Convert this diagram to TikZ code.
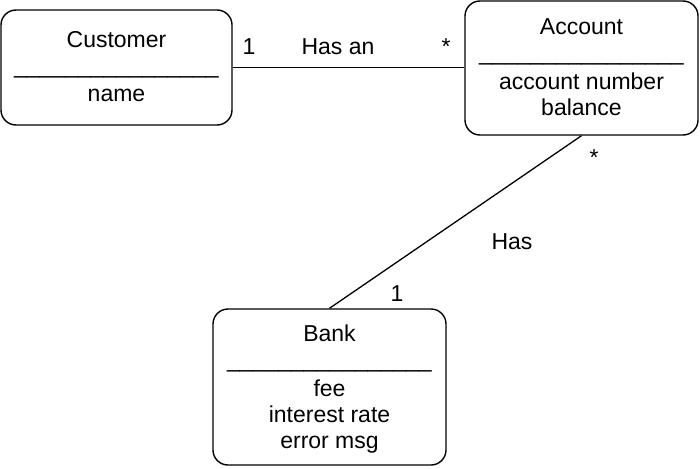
\documentclass[tikz,border=0pt]{standalone}
\usepackage{fontspec}
\setmainfont{Liberation Sans}
\begin{document}
\begin{tikzpicture}[x=1pt,y=-1pt,
  box/.style={draw, line width=1.4pt, rounded corners=15pt, inner sep=0pt},
  txt/.style={anchor=base, inner sep=0pt, font=\fontsize{23}{25}\selectfont},
  conn/.style={draw, line width=1.3pt}]
\useasboundingbox (0,0) rectangle (700,468);
% boxes
\node[box, minimum width=231pt, minimum height=115pt] (cust) at (116.5,67.5) {};
\node[box, minimum width=233pt, minimum height=134pt] (acct) at (581.5,68) {};
\node[box, minimum width=233pt, minimum height=156pt] (bank) at (329.5,387) {};
% Customer texts
\node[txt] (custname) at (116.5,48) {Customer};
\node[txt] (custsep) at (116.5,73.5) {\_\_\_\_\_\_\_\_\_\_\_\_\_\_\_\_};
\node[txt] (custattr) at (116.5,102) {name};
% Account texts
\node[txt] (acctname) at (581.5,35) {Account};
\node[txt] (acctsep) at (581.5,60.5) {\_\_\_\_\_\_\_\_\_\_\_\_\_\_\_\_};
\node[txt] (acctattr1) at (581.5,90) {account number};
\node[txt] (acctattr2) at (581.5,115) {balance};
% Bank texts
\node[txt] (bankname) at (329.5,341) {Bank};
\node[txt] (banksep) at (329.5,367.5) {\_\_\_\_\_\_\_\_\_\_\_\_\_\_\_\_};
\node[txt] (bankattr1) at (329.5,396) {fee};
\node[txt] (bankattr2) at (329.5,422) {interest rate};
\node[txt] (bankattr3) at (329.5,448) {error msg};
% connectors
\draw[conn] (cust.east) -- (cust.east -| acct.west);
\draw[conn] (acct.south) -- (bank.north);
% labels
\node[txt] (l1) at (249,55) {1};
\node[txt] (l2) at (338,55) {Has an};
\node[txt] (l3) at (446,55) {*};
\node[txt] (l4) at (594,165) {*};
\node[txt] (l5) at (512,249) {Has};
\node[txt] (l6) at (397,301) {1};
\end{tikzpicture}
\end{document}
